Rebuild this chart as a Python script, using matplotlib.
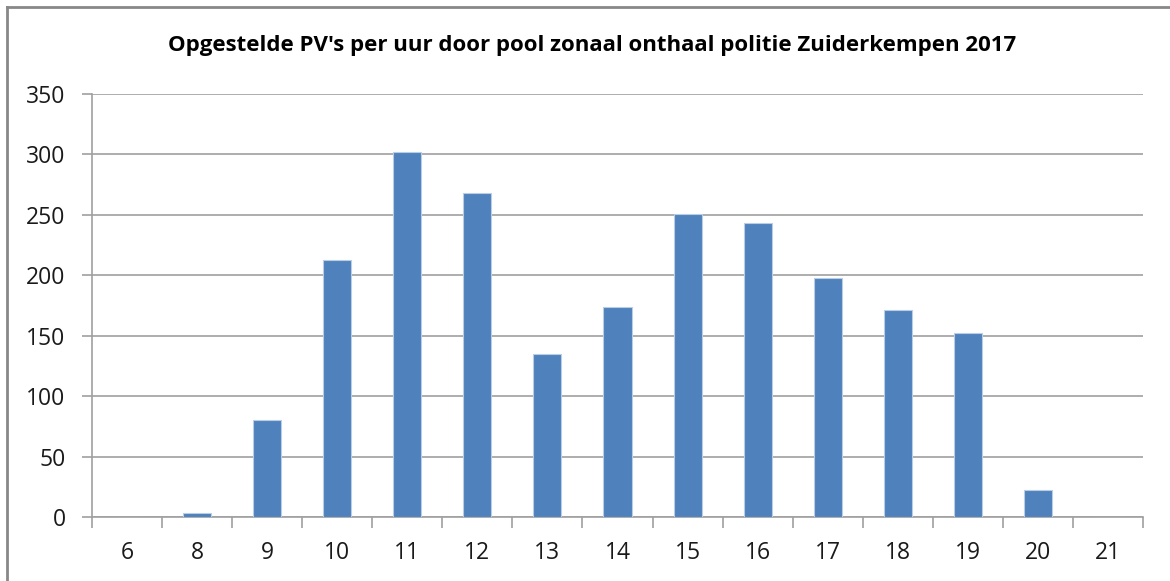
import matplotlib
matplotlib.use("Agg")
import matplotlib.pyplot as plt
from matplotlib.lines import Line2D
import numpy as np

hours = ["6", "8", "9", "10", "11", "12", "13", "14", "15", "16", "17", "18", "19", "20", "21"]
pv_counts = [0, 3, 80, 213, 302, 268, 135, 174, 251, 243, 198, 171, 152, 22, 0]
y_ticks = [0, 50, 100, 150, 200, 250, 300, 350]
title = "Opgestelde PV's per uur door pool zonaal onthaal politie Zuiderkempen 2017"

plt.rcParams['font.family'] = ['Open Sans', 'DejaVu Sans']

fig = plt.figure(figsize=(11.7, 5.81), dpi=100)
ax = fig.add_axes([92/1170, 1-517/581, (1143-92)/1170, (517-94)/581])

x = np.arange(len(hours))
ax.bar(x, pv_counts, width=0.4, color="#4F81BD", edgecolor="#B9CDE5", linewidth=0.8, zorder=3)

ax.set_xlim(-0.5, len(hours)-0.5)
ax.set_ylim(0, 350)
ax.set_yticks(y_ticks)
ax.set_yticklabels([str(v) for v in y_ticks], fontsize=16.5, color="#1a1a1a")
ax.set_xticks(x)
ax.set_xticklabels(hours, fontsize=16.5, color="#1a1a1a")
ax.tick_params(axis='x', length=0, pad=17)
ax.set_xticks(np.arange(len(hours)+1)-0.5, minor=True)
ax.tick_params(axis='x', which='minor', length=8, color="#A0A0A0", width=1.2)
ax.tick_params(axis='y', length=7, color="#A0A0A0", width=1.2, pad=12)

ax.grid(axis='y', color="#A0A0A0", linewidth=1.2, zorder=0)
for s in ['top', 'right']:
    ax.spines[s].set_visible(False)
ax.spines['left'].set_color("#A0A0A0")
ax.spines['bottom'].set_color("#A0A0A0")
ax.spines['left'].set_linewidth(1.2)
ax.spines['bottom'].set_linewidth(1.2)

fig.text(592/1170, 1-46/581, title, ha='center', va='center', fontsize=16, fontweight='bold', color="#000000")

# outer chart border (left and top visible)
fig.add_artist(Line2D([7/1170, 7/1170], [0, 1-7/581], color="#888888", linewidth=2, transform=fig.transFigure))
fig.add_artist(Line2D([7/1170, 1], [1-7/581, 1-7/581], color="#888888", linewidth=2, transform=fig.transFigure))

fig.savefig("out.png", dpi=100)
